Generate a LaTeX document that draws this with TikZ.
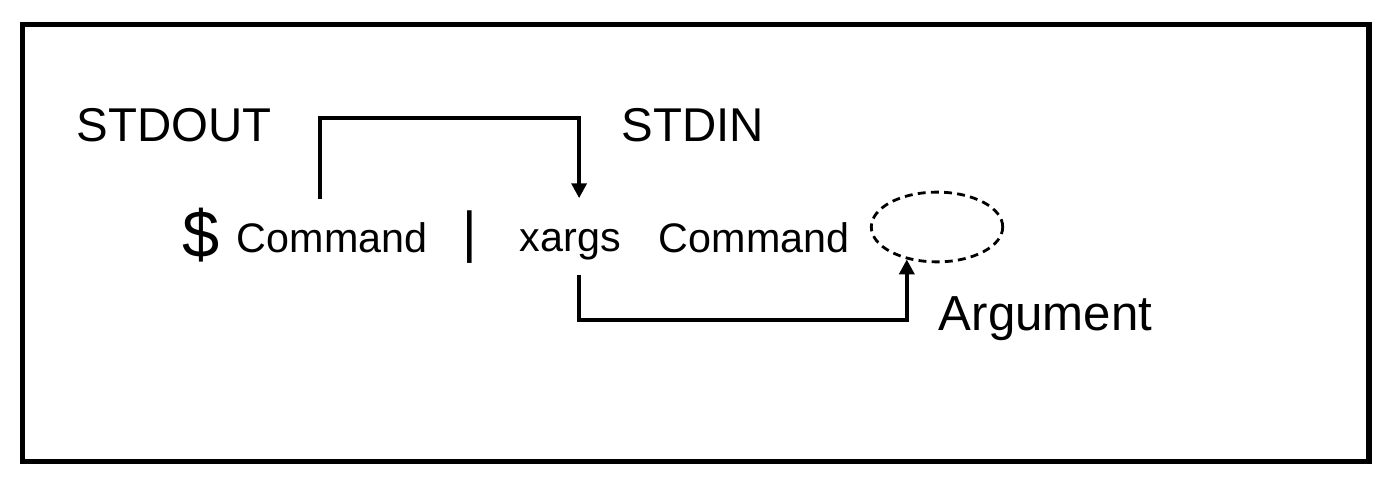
\documentclass[tikz,border=0pt]{standalone}
\usepackage{fontspec}
\setmainfont{Liberation Sans}
\usetikzlibrary{arrows.meta,shapes.geometric}
\begin{document}
\begin{tikzpicture}[x=0.02cm, y=-0.02cm, line width=2.1pt,
  heading/.style={inner sep=0pt, anchor=base west},
  word/.style={font=\fontsize{23.5}{28}\selectfont, inner xsep=0pt, inner ysep=12pt,
    text height=17pt, text depth=5pt, anchor=base west},
  conn/.style={-{Triangle[length=8.5pt,width=8.5pt]}}]
  \useasboundingbox (0,0) rectangle (1398,486);
  \draw[line width=3pt] (22.5,24.5) rectangle (1369,461.5);
  \node[heading, font=\fontsize{27}{32}\selectfont] (stdout) at (75,142) {STDOUT};
  \node[heading, font=\fontsize{27}{32}\selectfont] (stdin) at (620,142) {STDIN};
  \node[heading, font=\fontsize{38}{44}\selectfont] (dollar) at (181,257) {\$};
  \node[word] (cmd) at (235,252) {Command};
  \node[heading, anchor=base, font=\fontsize{32}{38}\selectfont] (pipe) at (470,251) {|};
  \node[word] (xargs) at (518,251) {xargs};
  \node[word] (cmdb) at (657,252) {Command};
  \node[ellipse, draw, line width=1.6pt, dash pattern=on 4.5pt off 3pt, inner sep=0pt,
    minimum width=74.8pt, minimum height=39.7pt] (arg) at (937,227) {};
  \node[heading, font=\fontsize{28}{34}\selectfont] (argument) at (937,330) {Argument};
  \coordinate (high) at (0,118);
  \coordinate (low) at (0,320);
  \draw[conn] ([xshift=-6.8pt]cmd.north) -- ([xshift=-6.8pt]cmd.north |- high)
    -| ([xshift=5pt]xargs.north);
  \draw[conn] ([xshift=5pt,yshift=4.5pt]xargs.south) -- ([xshift=5pt]xargs.south |- low)
    -| (arg.-133);
\end{tikzpicture}
\end{document}
